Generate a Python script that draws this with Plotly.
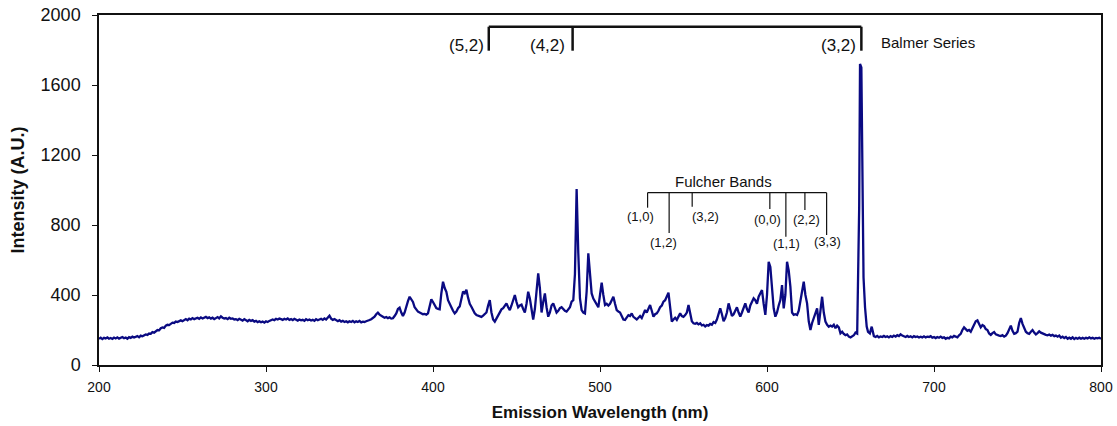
import plotly.graph_objects as go

# ---------------- data ----------------
# 200-360 nm (1 nm sampling)
wl_a = list(range(200, 361))
int_a = [150, 156, 148, 155, 152, 158, 150, 154, 149, 157,
         152, 158, 151, 155, 160, 153, 157, 150, 159, 155,
         162, 157, 160, 165, 158, 168, 164, 170, 175, 172,
         180, 178, 188, 185, 195, 200, 198, 210, 215, 212,
         225, 230, 228, 238, 242, 240, 248, 245, 252, 255,
         250, 258, 262, 256, 265, 260, 268, 262, 266, 270,
         264, 272, 266, 270, 275, 268, 272, 265, 270, 262,
         268, 274, 266, 278, 270, 265, 268, 262, 270, 264,
         266, 260, 262, 256, 264, 258, 254, 262, 256, 250,
         258, 252, 256, 248, 252, 245, 250, 244, 248, 242,
         250, 246, 252, 255, 260, 256, 264, 260, 266, 262,
         258, 264, 260, 266, 258, 262, 256, 264, 258, 254,
         260, 255, 258, 252, 262, 256, 260, 254, 258, 252,
         262, 256, 260, 264, 258, 266, 260, 270, 282, 265,
         258, 262, 254, 250, 256, 248, 252, 246, 250, 244,
         250, 246, 252, 244, 250, 246, 252, 244, 248, 246,
         250]

# 361-654 nm (1 nm sampling)
wl_b = list(range(361, 655))
int_b = [252, 257, 262, 268, 276, 290, 299, 288, 280, 276,
         270, 274, 268, 272, 265, 267, 280, 295, 320, 328,
         300, 280, 300, 340, 365, 390, 378, 360, 330, 315,
         305, 300, 295, 290, 292, 288, 295, 340, 375, 360,
         345, 325, 320, 318, 410, 476, 440, 418, 370, 345,
         330, 310, 295, 305, 325, 335, 380, 420, 410, 430,
         385, 350, 333, 310, 295, 286, 282, 278, 275, 282,
         290, 300, 340, 371, 300, 260, 248, 265, 286, 300,
         318, 325, 340, 352, 330, 314, 340, 370, 400, 360,
         330, 340, 345, 320, 300, 350, 419, 380, 330, 260,
         320, 430, 524, 440, 300, 360, 409, 330, 276, 300,
         340, 352, 320, 300, 310, 325, 330, 318, 310, 305,
         315, 330, 362, 370, 520, 1005, 640, 380, 314, 300,
         295, 420, 638, 520, 409, 380, 362, 350, 330, 400,
         470, 400, 343, 350, 340, 350, 370, 390, 350, 314,
         305, 300, 280, 260, 257, 270, 285, 280, 295, 275,
         268, 260, 270, 280, 268, 295, 314, 300, 320, 343,
         310, 276, 290, 295, 310, 330, 340, 362, 370, 390,
         413, 330, 248, 260, 270, 258, 278, 295, 280, 275,
         285, 300, 343, 300, 250, 238, 235, 240, 232, 238,
         226, 230, 220, 228, 225, 235, 230, 245, 240, 260,
         290, 324, 290, 250, 268, 300, 352, 320, 280, 290,
         310, 330, 300, 276, 300, 330, 352, 320, 300, 340,
         365, 381, 370, 350, 390, 410, 428, 350, 286, 400,
         590, 560, 420, 324, 276, 300, 340, 371, 457, 324,
         400, 590, 540, 448, 300, 286, 290, 286, 310, 375,
         420, 476, 400, 352, 250, 200, 240, 267, 300, 324,
         229, 300, 390, 300, 248, 230, 219, 225, 220, 230,
         210, 225, 215, 181, 190, 178, 170, 175, 162, 158,
         165, 170, 185, 180]

# H-alpha line region
wl_h = [655.2, 655.7, 656.5, 657.2, 657.8, 658.7, 659.7, 660.5, 661.6, 662.7, 663.6]
int_h = [900, 1720, 1700, 1100, 500, 330, 220, 190, 181, 219, 172]

# 664-800 nm (1 nm sampling)
wl_c = list(range(664, 801))
int_c = [165, 160, 166, 158, 163, 160, 166, 160, 164, 158,
         165, 160, 168, 162, 170, 165, 175, 168, 164, 160,
         166, 160, 164, 158, 165, 160, 163, 157, 162, 158,
         164, 158, 162, 160, 165, 156, 160, 154, 160, 156,
         162, 155, 158, 150, 156, 152, 162, 158, 166, 160,
         158, 170, 178, 200, 215, 205, 195, 200, 190, 210,
         230, 250, 255, 232, 215, 228, 222, 205, 200, 180,
         172, 182, 188, 175, 170, 168, 165, 170, 162, 168,
         182, 210, 225, 195, 178, 182, 190, 240, 268, 235,
         215, 190, 182, 178, 190, 200, 185, 175, 182, 192,
         185, 180, 175, 172, 170, 174, 168, 172, 165, 168,
         162, 168, 156, 162, 154, 160, 150, 156, 150, 158,
         148, 155, 150, 156, 150, 155, 150, 156, 152, 158,
         152, 156, 150, 155, 152, 156, 150]

x_ticks = [200, 300, 400, 500, 600, 700, 800]
y_ticks = [0, 400, 800, 1200, 1600, 2000]

balmer_labels = ["(5,2)", "(4,2)", "(3,2)"]
balmer_lines = [433.4, 483.6, 656.5]

fulcher_labels = ["(1,0)", "(1,2)", "(3,2)", "(0,0)", "(1,1)", "(2,2)", "(3,3)"]
fulcher_lines = [528.5, 541.4, 555.2, 601.7, 611.3, 622.7, 635.7]

# ---------------- annotation geometry (data units) ----------------
balmer_top, balmer_bottom = 1933, 1796
balmer_label_x = [432.0, 480.0, 654.3]
balmer_label_y = 1827
fulcher_top = 985
fulcher_bottom = [899, 754, 905, 891, 733, 886, 743]
fulcher_label_x = [524.3, 537.8, 563.2, 600.0, 611.9, 623.7, 636.1]
fulcher_label_y = [846, 699, 846, 829, 695, 829, 704]

wl = wl_a + wl_b + wl_h + wl_c
inten = int_a + int_b + int_h + int_c

FONT = "Liberation Sans, Arial, Helvetica, sans-serif"
INK = "#111111"

fig = go.Figure()
fig.add_trace(go.Scatter(x=wl, y=inten, mode="lines",
                         line=dict(color="#0a0a82", width=2.3),
                         showlegend=False, hoverinfo="skip"))

shapes = []
# Balmer bracket
shapes.append(dict(type="line", xref="x", yref="y", x0=balmer_lines[0], x1=balmer_lines[-1],
                   y0=balmer_top, y1=balmer_top, line=dict(color=INK, width=2.5)))
for bx in balmer_lines:
    shapes.append(dict(type="line", xref="x", yref="y", x0=bx, x1=bx,
                       y0=balmer_top, y1=balmer_bottom, line=dict(color=INK, width=2.5)))
# Fulcher bracket
shapes.append(dict(type="line", xref="x", yref="y", x0=fulcher_lines[0], x1=fulcher_lines[-1],
                   y0=fulcher_top, y1=fulcher_top, line=dict(color=INK, width=1.2)))
for fx, fb in zip(fulcher_lines, fulcher_bottom):
    shapes.append(dict(type="line", xref="x", yref="y", x0=fx, x1=fx,
                       y0=fulcher_top, y1=fb, line=dict(color=INK, width=1.2)))

annotations = []
for lab, lx in zip(balmer_labels, balmer_label_x):
    annotations.append(dict(x=lx, y=balmer_label_y, xref="x", yref="y", text=lab,
                            showarrow=False, xanchor="right", yanchor="middle",
                            font=dict(family=FONT, size=17, color=INK)))
annotations.append(dict(x=667, y=1842, xref="x", yref="y", text="Balmer Series",
                        showarrow=False, xanchor="left", yanchor="middle",
                        font=dict(family=FONT, size=15, color=INK)))
for lab, lx, ly in zip(fulcher_labels, fulcher_label_x, fulcher_label_y):
    annotations.append(dict(x=lx, y=ly, xref="x", yref="y", text=lab,
                            showarrow=False, xanchor="center", yanchor="middle",
                            font=dict(family=FONT, size=13, color=INK)))
annotations.append(dict(x=574.2, y=1047, xref="x", yref="y", text="Fulcher Bands",
                        showarrow=False, xanchor="center", yanchor="middle",
                        font=dict(family=FONT, size=15, color=INK)))

fig.update_layout(
    width=1117, height=426,
    margin=dict(l=99, r=16, t=15, b=61, autoexpand=False),
    paper_bgcolor="white", plot_bgcolor="white",
    font=dict(family=FONT, color=INK),
    shapes=shapes, annotations=annotations,
    xaxis=dict(range=[200, 800], tickvals=x_ticks, ticks="outside", ticklen=5,
               tickcolor=INK, showline=True, linecolor=INK, linewidth=1.5, mirror=True,
               showgrid=False, zeroline=False, automargin=False, ticklabelstandoff=3,
               ticklabeloverflow="allow",
               tickfont=dict(family=FONT, size=14, color=INK),
               title=dict(text="Emission Wavelength (nm)", standoff=13,
                          font=dict(family=FONT, size=17, color=INK, weight="bold"))),
    yaxis=dict(range=[0, 2000], tickvals=y_ticks, ticks="outside", ticklen=5,
               tickcolor=INK, showline=True, linecolor=INK, linewidth=1.5, mirror=True,
               showgrid=False, zeroline=False, ticklabelstandoff=8, automargin=False,
               ticklabeloverflow="allow",
               tickfont=dict(family=FONT, size=18, color=INK),
               title=dict(text="Intensity (A.U.)", standoff=11,
                          font=dict(family=FONT, size=18, color=INK, weight="bold"))),
)

# remove the browser's default body margin so the figure sits at the page origin
fig.write_html("out.html", config={"displayModeBar": False},
               post_script="document.body.style.margin='0';document.body.style.overflow='hidden';")
